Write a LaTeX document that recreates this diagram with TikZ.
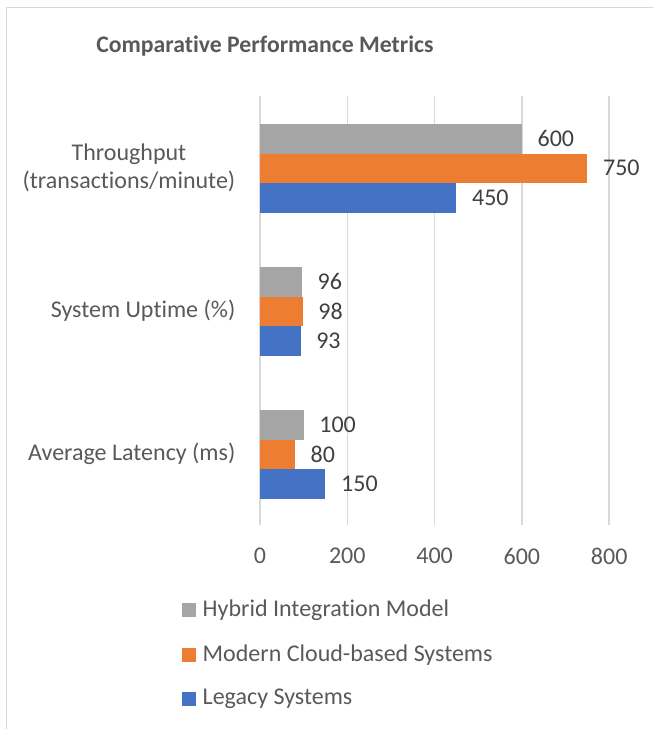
\documentclass[tikz,border=0pt]{standalone}
\usepackage{fontspec}
\setmainfont{Carlito}[Ligatures=NoCommon]
\definecolor{hybridgray}{HTML}{A5A5A5}
\definecolor{cloudorange}{HTML}{ED7D31}
\definecolor{legacyblue}{HTML}{4472C4}
\definecolor{gridgray}{HTML}{D9D9D9}
\definecolor{labelgray}{HTML}{595959}
\definecolor{valuegray}{HTML}{404040}
\tikzset{
  charttitle/.style={font=\fontsize{17.8}{22}\selectfont\bfseries, text=labelgray},
  catlabel/.style={font=\fontsize{18}{21}\selectfont, text=labelgray, anchor=east, align=center},
  ticklabel/.style={font=\fontsize{18}{21}\selectfont, text=labelgray},
  vallabel/.style={font=\fontsize{18}{21}\selectfont, text=valuegray, anchor=west},
  legtext/.style={font=\fontsize{18}{21}\selectfont, text=labelgray, anchor=west},
  gridline/.style={draw=gridgray, line width=1.1pt}
}
\begin{document}
\begin{tikzpicture}[x=0.75pt,y=-0.75pt]
\useasboundingbox (0,0) rectangle (653,729);
\draw[gridgray, line width=1.2pt] (6.5,740) -- (6.5,7.5) -- (660,7.5);

\node[charttitle] (title) at (265,46) {Comparative Performance Metrics};

% value axis, 200 units = 87.3 px
\foreach \v in {0,200,400,600,800}
{
    \draw[gridline] (260+\v*0.4365,96) -- (260+\v*0.4365,525);
    \node[ticklabel] (tick\v) at (260+\v*0.4365,556) {\v};
}

% bars: top of bar / value / colour / name
\foreach \c/\val/\col/\nm in {124/600/hybridgray/thrA,153.5/750/cloudorange/thrB,183/450/legacyblue/thrC,
    267/96/hybridgray/upA,296.5/98/cloudorange/upB,326/93/legacyblue/upC,
    410/100/hybridgray/latA,439.5/80/cloudorange/latB,469/150/legacyblue/latC}
{
    \fill[\col] (260,\c) rectangle (260+\val*0.4365,\c+29.5);
    \node[vallabel] (\nm) at (271+\val*0.4365,\c+14.75) {\val};
}

\node[catlabel] (thr) at (240,168) {Throughput\\(transactions/minute)};
\node[catlabel] (up) at (240,311) {System Uptime (\%)};
\node[catlabel] (lat) at (240,454) {Average Latency (ms)};

% legend
\foreach \yy/\col/\txt/\nm in {610/hybridgray/Hybrid Integration Model/legA,
    655/cloudorange/Modern Cloud-based Systems/legB,
    699/legacyblue/Legacy Systems/legC}
{
    \fill[\col] (182,\yy-7) rectangle (196,\yy+7);
    \node[legtext] (\nm) at (198,\yy) {\txt};
}
\end{tikzpicture}
\end{document}
